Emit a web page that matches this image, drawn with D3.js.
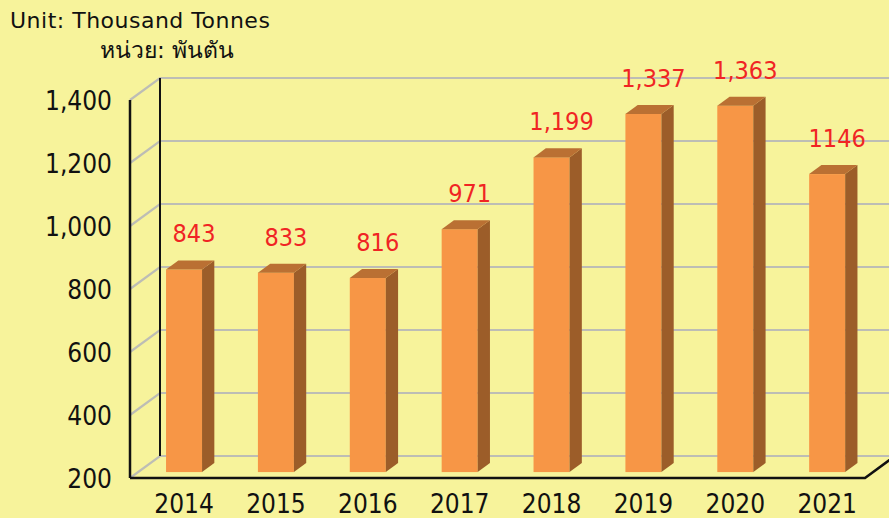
<!DOCTYPE html>
<html>
<head>
<meta charset="utf-8">
<script src="https://cdn.jsdelivr.net/npm/d3@7"></script>
<style>
  html, body { margin: 0; padding: 0; background: #F7F39B; }
  #chart { width: 889px; height: 518px; }
</style>
</head>
<body>
<div id="chart"></div>
<script>
// data
const years = ['2014', '2015', '2016', '2017', '2018', '2019', '2020', '2021'];
const values = [843, 833, 816, 971, 1199, 1337, 1363, 1146];
const valueLabels = ['843', '833', '816', '971', '1,199', '1,337', '1,363', '1146'];
const yTicks = [200, 400, 600, 800, 1000, 1200, 1400];
const yTickLabels = ['200', '400', '600', '800', '1,000', '1,200', '1,400'];

const width = 889, height = 518;
const font = '"DejaVu Sans Condensed", "Liberation Sans", sans-serif';

const svg = d3.select('#chart')
    .append('svg')
    .attr('width', width)
    .attr('height', height);

svg.append('rect').attr('width', width).attr('height', height).attr('fill', '#F7F39B');

// 3D depth offset (front plane -> back wall)
const DX = 30, DY = -22;

const x = d3.scaleBand().domain(years).range([130, 865]);
const y = d3.scaleLinear().domain([200, 1400]).range([478, 100]);

// gridlines: side wall diagonal + back wall
const grid = svg.append('g').attr('stroke', '#BDBDB5').attr('stroke-width', 2.2).attr('fill', 'none');
yTicks.forEach(v => {
    grid.append('path')
        .attr('d', `M${x.range()[0]},${y(v)} L${x.range()[0] + DX},${y(v) + DY} L${x.range()[1] + DX},${y(v) + DY}`);
});

// axes lines
const axis = svg.append('g').attr('stroke', '#111').attr('fill', 'none');
axis.append('line')
    .attr('x1', 130).attr('x2', 130)
    .attr('y1', y(200)).attr('y2', y(1400))
    .attr('stroke-width', 2.5);
axis.append('line')
    .attr('x1', 130 + DX).attr('x2', 130 + DX)
    .attr('y1', y(200) + DY).attr('y2', y(1400) + DY)
    .attr('stroke-width', 2);
axis.append('path')
    .attr('d', `M130,${y(200)} L${x.range()[1]},${y(200)} L${x.range()[1] + DX},${y(200) + DY}`)
    .attr('stroke-width', 2.5);

// bars
const d0 = 0.27, d1 = 0.68;
const bw = 36;
const ox = DX * d0, oy = DY * d0;
const sx = DX * (d1 - d0), sy = DY * (d1 - d0);

const bars = svg.selectAll('g.bar')
    .data(years.map((yr, i) => ({ yr, v: values[i], label: valueLabels[i] })))
    .enter()
    .append('g')
    .attr('class', 'bar');

bars.each(function (d) {
    const g = d3.select(this);
    const xl = x(d.yr) + x.bandwidth() / 2 - bw / 2 + ox;
    const xr = xl + bw;
    const yt = y(d.v) + oy;
    const yb = y(200) + oy;
    g.append('rect')
        .attr('x', xl).attr('y', yt)
        .attr('width', bw).attr('height', yb - yt)
        .attr('fill', '#F79646');
    g.append('path')
        .attr('d', `M${xr},${yt} L${xr + sx},${yt + sy} L${xr + sx},${yb + sy} L${xr},${yb}Z`)
        .attr('fill', '#9C5D29');
    g.append('path')
        .attr('d', `M${xl},${yt} L${xl + sx},${yt + sy} L${xr + sx},${yt + sy} L${xr},${yt}Z`)
        .attr('fill', '#BA7033');
    g.append('text')
        .attr('x', (xl + xr) / 2 + 10)
        .attr('y', yt + sy - 18)
        .attr('text-anchor', 'middle')
        .attr('fill', '#F02424')
        .attr('font-family', font)
        .attr('font-size', '25px')
        .text(d.label);
});

// y labels
svg.selectAll('text.ylab')
    .data(yTicks)
    .enter()
    .append('text')
    .attr('class', 'ylab')
    .attr('x', 112)
    .attr('y', d => y(d))
    .attr('dy', '0.38em')
    .attr('text-anchor', 'end')
    .attr('font-family', font)
    .attr('font-size', '26px')
    .attr('fill', '#111')
    .text((d, i) => yTickLabels[i]);

// x labels
svg.selectAll('text.xlab')
    .data(years)
    .enter()
    .append('text')
    .attr('class', 'xlab')
    .attr('x', d => x(d) + x.bandwidth() / 2 + ox)
    .attr('y', 513)
    .attr('text-anchor', 'middle')
    .attr('font-family', font)
    .attr('font-size', '26px')
    .attr('fill', '#111')
    .text(d => d);

// unit titles
svg.append('text')
    .attr('x', 10).attr('y', 28)
    .attr('font-family', '"DejaVu Sans", sans-serif')
    .attr('font-size', '22px')
    .attr('letter-spacing', '0.5px')
    .attr('fill', '#111')
    .text('Unit: Thousand Tonnes');
svg.append('text')
    .attr('x', 100).attr('y', 58)
    .attr('font-family', '"DejaVu Sans", "Noto Sans", sans-serif')
    .attr('font-size', '23px')
    .attr('fill', '#111')
    .text('หน่วย: พันตัน');
</script>
</body>
</html>
